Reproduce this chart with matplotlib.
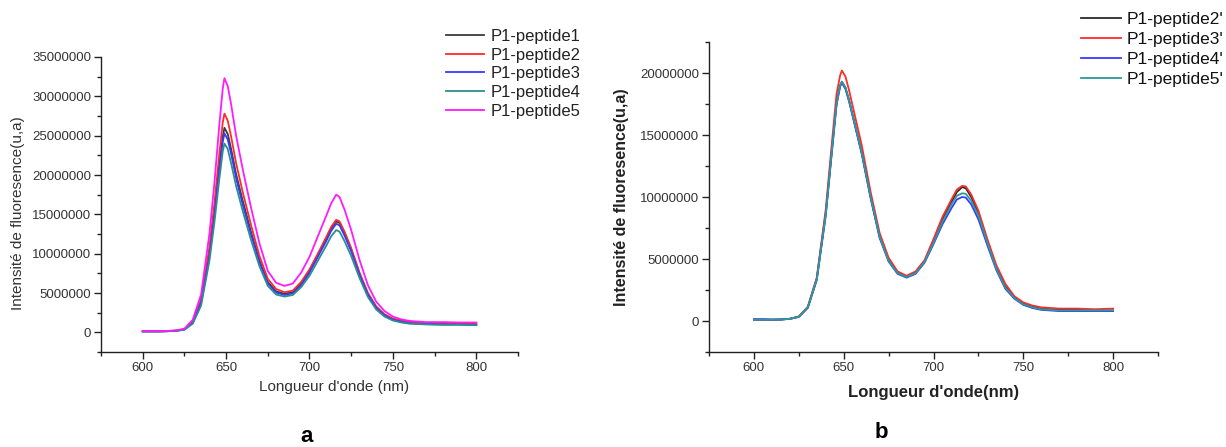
import matplotlib
matplotlib.use("Agg")
import matplotlib.pyplot as plt
from matplotlib.ticker import MultipleLocator, FuncFormatter

plt.rcParams['font.family'] = ['Liberation Sans', 'DejaVu Sans']

# ---------------- data ----------------
wavelength = [600, 605, 610, 615, 620, 625, 630, 635, 640, 643, 646, 648, 649, 651, 653, 656,
              660, 665, 670, 675, 680, 685, 690, 695, 700, 705, 710, 713, 716, 718, 721, 725,
              730, 735, 740, 745, 750, 755, 760, 770, 780, 790, 800]

# panel a (values in millions)
a_labels = ['P1-peptide1', 'P1-peptide2', 'P1-peptide3', 'P1-peptide4', 'P1-peptide5']
a_p1 = [0.12, 0.12, 0.12, 0.15, 0.2, 0.38, 1.3, 3.9, 10.0, 15.3, 21.3, 24.9, 26.0, 25.2, 23.3, 20.1,
        16.7, 12.7, 9.1, 6.4, 5.2, 4.9, 5.1, 6.2, 7.8, 9.8, 11.9, 13.2, 14.1, 13.9, 12.6, 10.5,
        7.4, 4.9, 3.2, 2.2, 1.65, 1.4, 1.2, 1.1, 1.05, 1.05, 1.0]
a_p2 = [0.13, 0.13, 0.13, 0.16, 0.22, 0.4, 1.4, 4.2, 10.8, 16.4, 22.8, 26.7, 27.8, 26.9, 24.9, 21.5,
        17.8, 13.6, 9.7, 6.8, 5.5, 5.1, 5.3, 6.4, 8.0, 10.0, 12.1, 13.4, 14.3, 14.1, 12.8, 10.7,
        7.6, 5.0, 3.3, 2.3, 1.75, 1.5, 1.3, 1.2, 1.15, 1.15, 1.1]
a_p3 = [0.12, 0.12, 0.12, 0.14, 0.2, 0.35, 1.2, 3.7, 9.6, 14.8, 20.7, 24.2, 25.3, 24.5, 22.7, 19.6,
        16.2, 12.4, 8.9, 6.2, 5.05, 4.75, 4.95, 6.0, 7.6, 9.6, 11.6, 12.9, 13.8, 13.6, 12.3, 10.3,
        7.3, 4.8, 3.1, 2.15, 1.6, 1.35, 1.15, 1.05, 1.0, 1.0, 0.95]
a_p4 = [0.12, 0.12, 0.12, 0.14, 0.19, 0.33, 1.1, 3.4, 9.1, 14.0, 19.6, 23.0, 24.0, 23.3, 21.5, 18.6,
        15.4, 11.7, 8.4, 5.9, 4.8, 4.55, 4.75, 5.75, 7.2, 9.1, 11.0, 12.2, 13.0, 12.8, 11.6, 9.7,
        6.9, 4.5, 2.9, 2.0, 1.5, 1.25, 1.1, 1.0, 0.95, 0.95, 0.9]
a_p5 = [0.15, 0.15, 0.15, 0.18, 0.25, 0.45, 1.6, 4.8, 12.5, 19.0, 26.5, 31.0, 32.3, 31.3, 29.0, 25.0,
        20.7, 15.8, 11.3, 7.8, 6.3, 5.9, 6.2, 7.6, 9.6, 12.2, 14.8, 16.4, 17.5, 17.2, 15.6, 13.0,
        9.2, 6.0, 3.9, 2.7, 2.0, 1.65, 1.45, 1.3, 1.3, 1.25, 1.25]

# panel b (values in millions)
b_labels = ["P1-peptide2'", "P1-peptide3'", "P1-peptide4'", "P1-peptide5'"]
b_p2 = [0.1, 0.1, 0.1, 0.12, 0.18, 0.35, 1.1, 3.4, 8.7, 13.2, 17.6, 19.0, 19.3, 18.8, 17.8, 16.0,
        13.6, 10.0, 6.8, 4.9, 3.9, 3.55, 3.9, 4.8, 6.5, 8.2, 9.6, 10.4, 10.8, 10.7, 10.0, 8.7,
        6.4, 4.3, 2.8, 1.9, 1.4, 1.15, 1.0, 0.9, 0.9, 0.85, 0.85]
b_p3 = [0.1, 0.1, 0.1, 0.12, 0.18, 0.35, 1.15, 3.5, 9.0, 13.7, 18.3, 19.8, 20.2, 19.7, 18.6, 16.7,
        14.2, 10.4, 7.1, 5.1, 4.0, 3.65, 4.0, 4.9, 6.6, 8.4, 9.8, 10.6, 10.9, 10.85, 10.2, 8.9,
        6.6, 4.5, 3.0, 2.0, 1.5, 1.25, 1.1, 1.0, 1.0, 0.95, 1.0]
b_p4 = [0.15, 0.15, 0.12, 0.12, 0.17, 0.33, 1.05, 3.3, 8.5, 13.0, 17.4, 18.9, 19.2, 18.7, 17.7, 15.9,
        13.5, 9.9, 6.7, 4.8, 3.8, 3.5, 3.8, 4.7, 6.2, 7.8, 9.1, 9.8, 10.0, 9.95, 9.4, 8.2,
        6.1, 4.1, 2.6, 1.8, 1.3, 1.05, 0.9, 0.8, 0.8, 0.8, 0.8]
b_p5 = [0.1, 0.1, 0.1, 0.12, 0.17, 0.34, 1.1, 3.35, 8.6, 13.1, 17.5, 19.0, 19.3, 18.8, 17.8, 16.0,
        13.6, 10.0, 6.8, 4.85, 3.85, 3.55, 3.85, 4.75, 6.3, 8.0, 9.4, 10.1, 10.3, 10.25, 9.7, 8.5,
        6.3, 4.2, 2.7, 1.85, 1.35, 1.1, 0.95, 0.85, 0.85, 0.85, 0.85]

a_series = [a_p1, a_p2, a_p3, a_p4, a_p5]
b_series = [b_p2, b_p3, b_p4, b_p5]
a_colors = ['#3a3a3a', '#ff2a2a', '#3a3aff', '#2a8f8f', '#ff1aff']
b_colors = ['#2a2a2a', '#ff2a2a', '#3a3aff', '#2a9a9a']

SCALE = 1e6
W, H = 1226, 447
fig = plt.figure(figsize=(W / 100, H / 100), dpi=100)

def px_axes(l, t, r, b):
    return fig.add_axes([l / W, 1 - b / H, (r - l) / W, (b - t) / H])

tick_col = '#333333'

def style(ax, ymax, tickfs):
    ax.spines['top'].set_visible(False)
    ax.spines['right'].set_visible(False)
    for s in ('left', 'bottom'):
        ax.spines[s].set_linewidth(1.0)
        ax.spines[s].set_color('#222222')
    ax.set_xlim(575, 825)
    ax.set_ylim(-2.5e6, ymax)
    ax.xaxis.set_major_locator(MultipleLocator(50))
    ax.xaxis.set_minor_locator(MultipleLocator(25))
    ax.yaxis.set_major_locator(MultipleLocator(5e6))
    ax.yaxis.set_minor_locator(MultipleLocator(2.5e6))
    ax.xaxis.set_major_formatter(FuncFormatter(lambda v, p: '%d' % v if 600 <= v <= 800 else ''))
    ax.yaxis.set_major_formatter(FuncFormatter(lambda v, p: '%d' % round(v) if v >= 0 else ''))
    ax.tick_params(which='major', direction='out', length=5, width=1, colors='#222222',
                   labelcolor=tick_col, labelsize=tickfs, pad=2)
    ax.tick_params(which='minor', direction='out', length=3, width=1, colors='#222222')

# panel a
axa = px_axes(101, 57, 518, 352)
style(axa, 35e6, 9.5)
for ys, c, lab in zip(a_series, a_colors, a_labels):
    axa.plot(wavelength, [v * SCALE for v in ys], color=c, lw=1.3, label=lab)
axa.set_xlabel("Longueur d'onde (nm)", fontsize=11, color='#333333')
axa.set_ylabel("Intensité de fluoresence(u,a)", fontsize=11, color='#333333')
axa.xaxis.set_label_coords(0.56, -0.095)
axa.yaxis.set_label_coords(-0.183, 0.47)
leg_a = axa.legend(loc='upper left', bbox_to_anchor=(446 / W, 1 - 29 / H),
                   bbox_transform=fig.transFigure, frameon=False, fontsize=12,
                   handlelength=2.3, handletextpad=0.35, labelspacing=0.22, borderpad=0,
                   borderaxespad=0)
for t in leg_a.get_texts():
    t.set_color('#222222')

# panel b
axb = px_axes(709, 42, 1158, 352)
style(axb, 22.5e6, 9.5)
for ys, c, lab in zip(b_series, b_colors, b_labels):
    axb.plot(wavelength, [v * SCALE for v in ys], color=c, lw=1.3, label=lab)
axb.set_xlabel("Longueur d'onde(nm)", fontsize=12, fontweight='bold', color='#222222')
axb.set_ylabel("Intensité de fluoresence(u,a)", fontsize=11.5, fontweight='bold', color='#222222')
axb.xaxis.set_label_coords(0.5, -0.105)
axb.yaxis.set_label_coords(-0.178, 0.5)
leg_b = axb.legend(loc='upper left', bbox_to_anchor=(1081 / W, 1 - 12 / H),
                   bbox_transform=fig.transFigure, frameon=False, fontsize=12.5,
                   handlelength=2.3, handletextpad=0.3, labelspacing=0.28, borderpad=0,
                   borderaxespad=0)
for t in leg_b.get_texts():
    t.set_color('#111111')

fig.text(307 / W, 1 - 437 / H, 'a', fontsize=16, fontweight='bold', ha='center', va='center')
fig.text(881 / W, 1 - 432 / H, 'b', fontsize=16, fontweight='bold', ha='center', va='center')

fig.savefig('out.png', dpi=100)
